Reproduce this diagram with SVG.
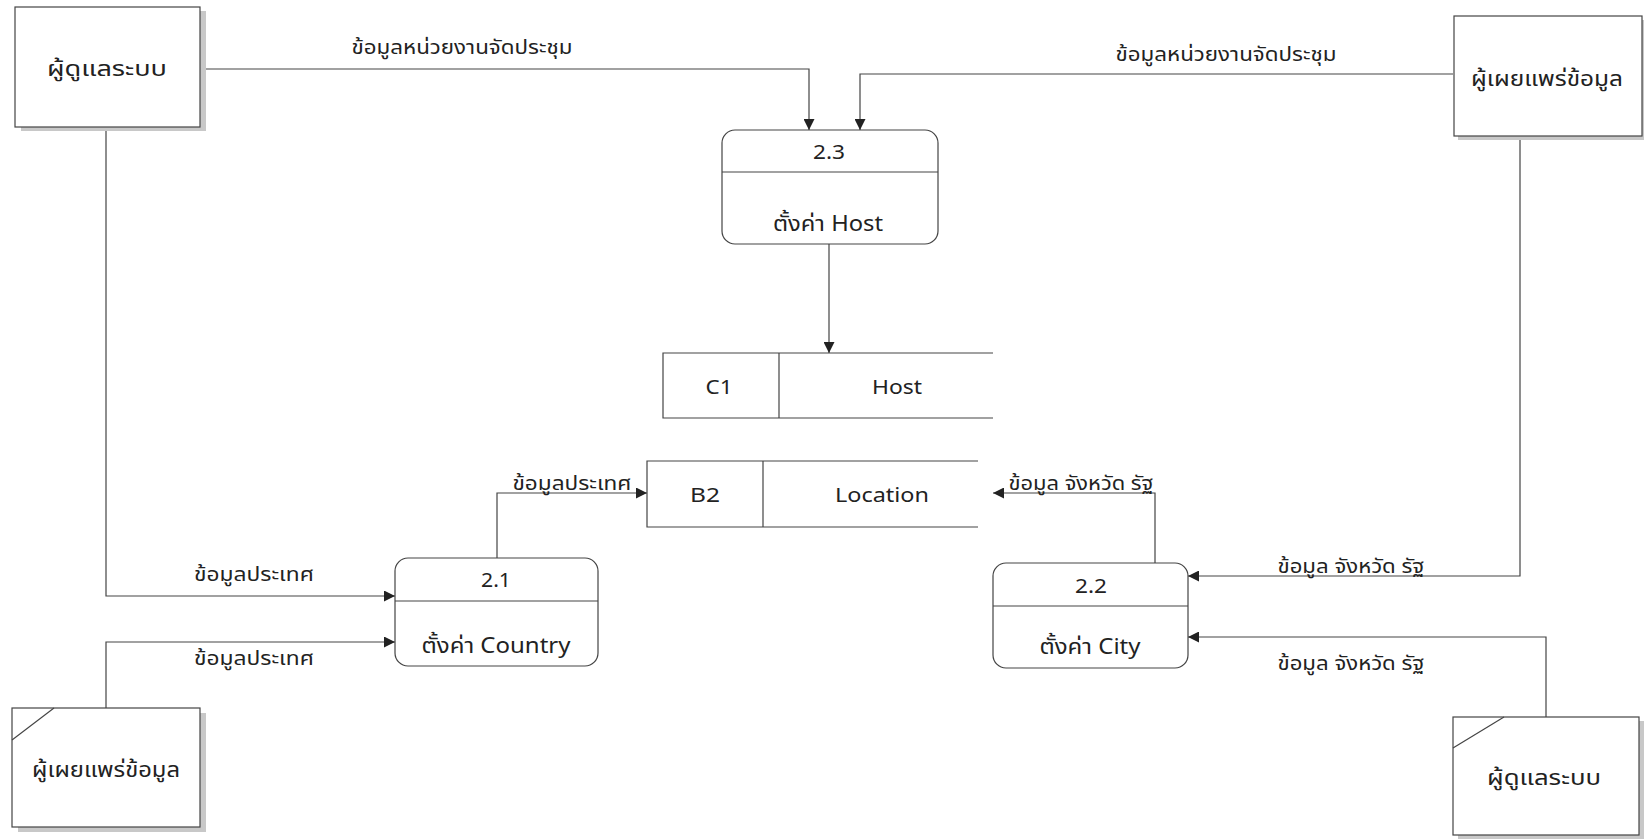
<svg xmlns="http://www.w3.org/2000/svg" width="1644" height="839" viewBox="0 0 1644 839">
<defs>
<marker id="arr" viewBox="0 0 10 10" refX="10" refY="5" markerWidth="11" markerHeight="11" markerUnits="userSpaceOnUse" orient="auto">
<path d="M0,0 L10,5 L0,10 z" fill="#222"/>
</marker>
</defs>
<style>
.box{fill:#fff;stroke:#444;stroke-width:1.2}
.shadow{fill:#c8c8c8;stroke:none}
.ln{fill:none;stroke:#444;stroke-width:1.2}
.t{font-family:"Noto Sans Thai","Tahoma","Leelawadee UI","Noto Sans","DejaVu Sans",sans-serif;fill:#222;text-anchor:middle;dominant-baseline:central}
.big{font-size:22px}
.mid{font-size:20px}
.lbl{font-size:19px}
</style>
<rect width="1644" height="839" fill="#fff"/>
<g id="connectors">
<polyline class="ln" points="200,69 809,69 809,130" marker-end="url(#arr)"/>
<polyline class="ln" points="1453,74 860,74 860,130" marker-end="url(#arr)"/>
<polyline class="ln" points="829,244 829,353" marker-end="url(#arr)"/>
<polyline class="ln" points="106,127 106,596 395,596" marker-end="url(#arr)"/>
<polyline class="ln" points="106,708 106,642 395,642" marker-end="url(#arr)"/>
<polyline class="ln" points="497,558 497,493 647,493" marker-end="url(#arr)"/>
<polyline class="ln" points="1155,563 1155,493 993,493" marker-end="url(#arr)"/>
<polyline class="ln" points="1520,136 1520,576 1188,576" marker-end="url(#arr)"/>
<polyline class="ln" points="1546,717 1546,637 1188,637" marker-end="url(#arr)"/>
<text class="t lbl" x="462" y="48" textLength="221" lengthAdjust="spacingAndGlyphs">ข้อมูลหน่วยงานจัดประชุม</text>
<text class="t lbl" x="1226" y="55" textLength="221" lengthAdjust="spacingAndGlyphs">ข้อมูลหน่วยงานจัดประชุม</text>
<text class="t lbl" x="254" y="575" textLength="120" lengthAdjust="spacingAndGlyphs">ข้อมูลประเทศ</text>
<text class="t lbl" x="254" y="659" textLength="120" lengthAdjust="spacingAndGlyphs">ข้อมูลประเทศ</text>
<text class="t lbl" x="572" y="484" textLength="119" lengthAdjust="spacingAndGlyphs">ข้อมูลประเทศ</text>
<text class="t lbl" x="1081" y="484" textLength="145" lengthAdjust="spacingAndGlyphs">ข้อมูล จังหวัด รัฐ</text>
<text class="t lbl" x="1351" y="567" textLength="147" lengthAdjust="spacingAndGlyphs">ข้อมูล จังหวัด รัฐ</text>
<text class="t lbl" x="1351" y="664" textLength="147" lengthAdjust="spacingAndGlyphs">ข้อมูล จังหวัด รัฐ</text>
</g>
<g id="admin-top">
<rect class="shadow" x="21" y="11" width="185" height="120"/>
<rect class="box" x="15" y="7" width="185" height="120"/>
<text class="t big" x="107" y="69" textLength="120" lengthAdjust="spacingAndGlyphs">ผู้ดูแลระบบ</text>
</g>
<g id="publisher-top">
<rect class="shadow" x="1458" y="20" width="186" height="120"/>
<rect class="box" x="1454" y="16" width="188" height="120"/>
<text class="t big" x="1547" y="79" textLength="152" lengthAdjust="spacingAndGlyphs">ผู้เผยแพร่ข้อมูล</text>
</g>
<g id="process-2-3">
<rect class="box" x="722" y="130" width="216" height="114" rx="13"/>
<line class="ln" x1="722" y1="172" x2="938" y2="172"/>
<text class="t mid" x="829" y="153" textLength="32" lengthAdjust="spacingAndGlyphs">2.3</text>
<text class="t big" x="828" y="224" textLength="110" lengthAdjust="spacingAndGlyphs">ตั้งค่า Host</text>
</g>
<g id="store-c1">
<polyline class="ln" points="993,353 663,353 663,418 993,418"/>
<line class="ln" x1="779" y1="353" x2="779" y2="418"/>
<text class="t mid" x="719" y="388" textLength="27" lengthAdjust="spacingAndGlyphs">C1</text>
<text class="t mid" x="897" y="388" textLength="50" lengthAdjust="spacingAndGlyphs">Host</text>
</g>
<g id="store-b2">
<polyline class="ln" points="978,461 647,461 647,527 978,527"/>
<line class="ln" x1="763" y1="461" x2="763" y2="527"/>
<text class="t mid" x="705" y="496" textLength="30" lengthAdjust="spacingAndGlyphs">B2</text>
<text class="t mid" x="882" y="496" textLength="94" lengthAdjust="spacingAndGlyphs">Location</text>
</g>
<g id="process-2-1">
<rect class="box" x="395" y="558" width="203" height="108" rx="13"/>
<line class="ln" x1="395" y1="601" x2="598" y2="601"/>
<text class="t mid" x="496" y="581" textLength="30" lengthAdjust="spacingAndGlyphs">2.1</text>
<text class="t big" x="496" y="646" textLength="149" lengthAdjust="spacingAndGlyphs">ตั้งค่า Country</text>
</g>
<g id="process-2-2">
<rect class="box" x="993" y="563" width="195" height="105" rx="13"/>
<line class="ln" x1="993" y1="606" x2="1188" y2="606"/>
<text class="t mid" x="1091" y="587" textLength="32" lengthAdjust="spacingAndGlyphs">2.2</text>
<text class="t big" x="1090" y="647" textLength="101" lengthAdjust="spacingAndGlyphs">ตั้งค่า City</text>
</g>
<g id="publisher-bottom">
<rect class="shadow" x="18" y="713" width="188" height="119"/>
<rect class="box" x="12" y="708" width="188" height="119"/>
<line class="ln" x1="54" y1="708" x2="12" y2="740"/>
<text class="t big" x="106" y="770" textLength="148" lengthAdjust="spacingAndGlyphs">ผู้เผยแพร่ข้อมูล</text>
</g>
<g id="admin-bottom">
<rect class="shadow" x="1458" y="721" width="186" height="118"/>
<rect class="box" x="1453" y="717" width="186" height="118"/>
<line class="ln" x1="1504" y1="717" x2="1453" y2="748"/>
<text class="t big" x="1544" y="778" textLength="114" lengthAdjust="spacingAndGlyphs">ผู้ดูแลระบบ</text>
</g>
</svg>
